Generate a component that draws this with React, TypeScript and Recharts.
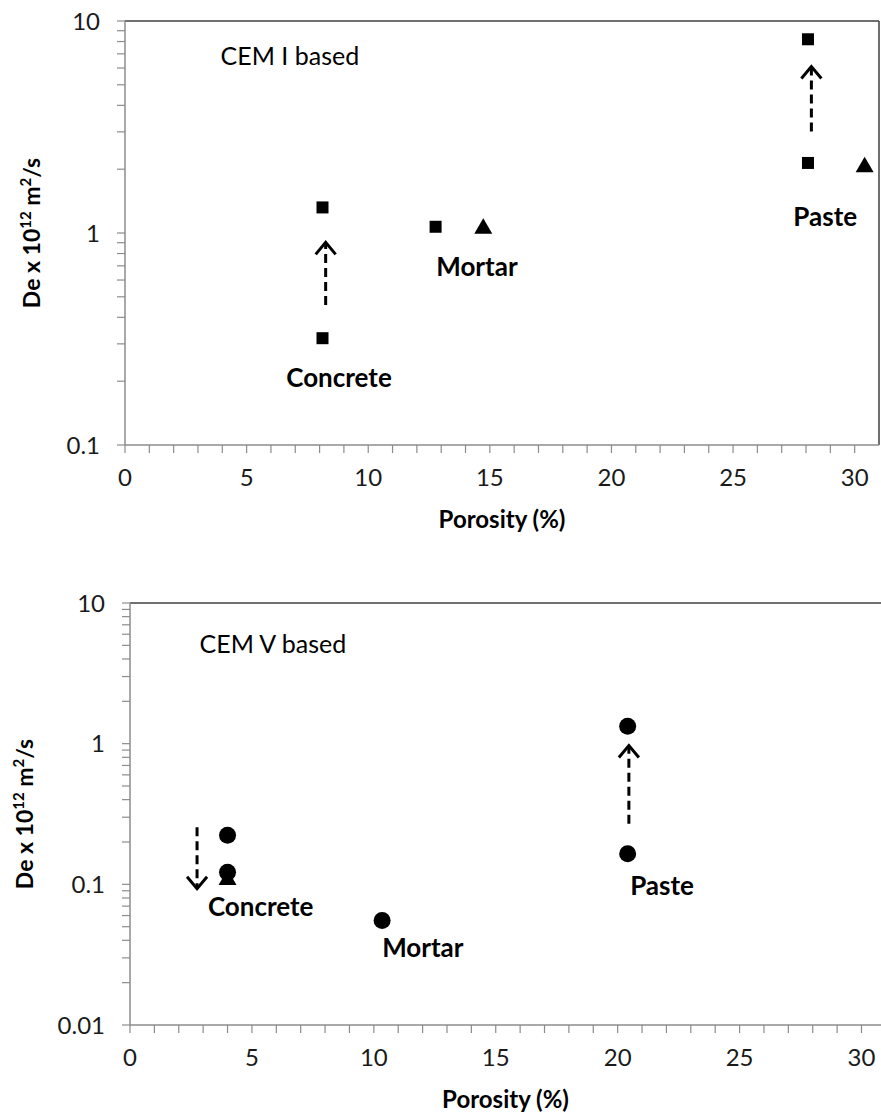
import React from 'react';
import { ScatterChart, Scatter, XAxis, YAxis, ReferenceLine, ReferenceDot } from 'recharts';

const FONT = 'Lato, "Open Sans", sans-serif';

// ---------- CEM I based (top panel) ----------
const cem1Squares = [
  { porosity: 8.12, de: 0.319 },
  { porosity: 8.12, de: 1.32 },
  { porosity: 12.77, de: 1.07 },
  { porosity: 28.08, de: 2.14 },
  { porosity: 28.08, de: 8.2 },
];
const cem1Triangles = [
  { porosity: 14.73, de: 1.07 },
  { porosity: 30.41, de: 2.09 },
];
const cem1Arrows = [
  { porosity: 8.25, from: 0.458, to: 0.903 },
  { porosity: 28.22, from: 3.01, to: 6.1 },
];
const cem1Labels = [
  { text: 'Concrete', porosity: 8.8, de: 0.209 },
  { text: 'Mortar', porosity: 14.47, de: 0.7 },
  { text: 'Paste', porosity: 28.79, de: 1.198 },
];
const cem1Title = { text: 'CEM I based', porosity: 6.78, de: 6.89 };

// ---------- CEM V based (bottom panel) ----------
const cem5Circles = [
  { porosity: 4.0, de: 0.223 },
  { porosity: 4.0, de: 0.122 },
  { porosity: 10.34, de: 0.0554 },
  { porosity: 20.41, de: 0.165 },
  { porosity: 20.41, de: 1.33 },
];
const cem5Triangles = [{ porosity: 4.0, de: 0.111 }];
const cem5Arrows = [
  { porosity: 2.75, from: 0.255, to: 0.093 },
  { porosity: 20.46, from: 0.27, to: 0.97 },
];
const cem5Labels = [
  { text: 'Concrete', porosity: 5.36, de: 0.0697 },
  { text: 'Mortar', porosity: 12.01, de: 0.0357 },
  { text: 'Paste', porosity: 21.82, de: 0.0982 },
];
const cem5Title = { text: 'CEM V based', porosity: 5.86, de: 5.17 };

// ---------- axes ----------
const xTicks = [0, 1, 2, 3, 4, 5, 6, 7, 8, 9, 10, 11, 12, 13, 14, 15, 16, 17, 18, 19, 20, 21, 22, 23, 24, 25, 26, 27, 28, 29, 30];
const xTickLabels = [0, 5, 10, 15, 20, 25, 30];
const yTicksTop = [0.1, 0.2, 0.3, 0.4, 0.5, 0.6, 0.7, 0.8, 0.9, 1, 2, 3, 4, 5, 6, 7, 8, 9, 10];
const yTickLabelsTop = [0.1, 1, 10];
const yTicksBottom = [0.01, 0.02, 0.03, 0.04, 0.05, 0.06, 0.07, 0.08, 0.09, 0.1, 0.2, 0.3, 0.4, 0.5, 0.6, 0.7, 0.8, 0.9, 1, 2, 3, 4, 5, 6, 7, 8, 9, 10];
const yTickLabelsBottom = [0.01, 0.1, 1, 10];

const AXIS = '#8c8c8c';
const BORDER = '#404040';

const squareShape = (p: any) => <rect x={p.cx - 6} y={p.cy - 6} width={12} height={12} fill="#000" />;
const triangleShape = (p: any) => (
  <polygon points={`${p.cx},${p.cy - 8.5} ${p.cx - 9},${p.cy + 7} ${p.cx + 9},${p.cy + 7}`} fill="#000" />
);
const circleShape = (p: any) => <circle cx={p.cx} cy={p.cy} r={8.5} fill="#000" />;

const arrowShape = (p: any) => {
  const { x1, y1, x2, y2 } = p;
  const dir = y2 < y1 ? -1 : 1;
  const head = 12;
  const half = 10;
  return (
    <g>
      <line x1={x1} y1={y1} x2={x2} y2={y2 - dir * 2} stroke="#000" strokeWidth={3} strokeDasharray="9 5" />
      <polyline
        points={`${x2 - half},${y2 - dir * head} ${x2},${y2} ${x2 + half},${y2 - dir * head}`}
        fill="none"
        stroke="#000"
        strokeWidth={3}
      />
    </g>
  );
};

const textShape = (text: string, bold: boolean, size: number) => (p: any) => (
  <text
    x={p.cx}
    y={p.cy}
    textAnchor="middle"
    dominantBaseline="central"
    fontFamily={FONT}
    fontWeight={bold ? 'bold' : 'normal'}
    fontSize={size}
    fill="#000"
  >
    {text}
  </text>
);

const yTitle = (bx: number) => (props: any) => {
  const vb = props.viewBox || {};
  const cy = vb.y + vb.height / 2;
  return (
    <text
      x={bx}
      y={cy}
      transform={`rotate(-90, ${bx}, ${cy})`}
      textAnchor="middle"
      fontFamily={FONT}
      fontWeight="bold"
      fontSize={23}
      fill="#000"
    >
      De x 10<tspan dy={-9} fontSize={15}>12</tspan>
      <tspan dy={9}> m</tspan>
      <tspan dy={-9} fontSize={15}>2</tspan>
      <tspan dy={9}>/s</tspan>
    </text>
  );
};

const xTitle = (props: any) => {
  const vb = props.viewBox || {};
  return (
    <text
      x={vb.x + vb.width / 2}
      y={vb.y + 83}
      textAnchor="middle"
      fontFamily={FONT}
      fontWeight="bold"
      fontSize={24}
      fill="#000"
    >
      Porosity (%)
    </text>
  );
};

const tickStyle = { fontFamily: FONT, fontSize: 24, fill: '#1a1a1a' };

function Panel(props: {
  top: number;
  height: number;
  margin: any;
  yWidth: number;
  xMax: number;
  yDomain: number[];
  yTicks: number[];
  yLabels: number[];
  yTitleX: number;
  markers: { data: any[]; shape: any }[];
  arrows: { porosity: number; from: number; to: number }[];
  labels: { text: string; porosity: number; de: number }[];
  title: { text: string; porosity: number; de: number };
  rightBorder: boolean;
}) {
  return (
    <div style={{ position: 'absolute', left: 0, top: props.top }}>
      <ScatterChart width={881} height={props.height} margin={props.margin}>
        <XAxis
          dataKey="porosity"
          type="number"
          domain={[0, props.xMax]}
          ticks={xTicks}
          interval={0}
          allowDataOverflow
          tickFormatter={(v: number) => (xTickLabels.includes(v) ? String(v) : '')}
          axisLine={{ stroke: AXIS, strokeWidth: 1.5 }}
          tickLine={{ stroke: AXIS, strokeWidth: 1.2 }}
          tickSize={8}
          tickMargin={16}
          tick={tickStyle}
          height={80}
          label={{ content: xTitle }}
        />
        <YAxis
          dataKey="de"
          type="number"
          scale="log"
          domain={props.yDomain}
          ticks={props.yTicks}
          interval={0}
          allowDataOverflow
          tickFormatter={(v: number) => (props.yLabels.includes(v) ? String(v) : '')}
          axisLine={{ stroke: AXIS, strokeWidth: 1.5 }}
          tickLine={{ stroke: AXIS, strokeWidth: 1.2 }}
          tickSize={8}
          tickMargin={17}
          tick={tickStyle}
          width={props.yWidth}
          label={{ content: yTitle(props.yTitleX) }}
        />
        <ReferenceLine y={props.yDomain[1]} stroke={BORDER} strokeWidth={1.5} />
        {props.rightBorder && <ReferenceLine x={props.xMax} stroke={BORDER} strokeWidth={1.5} />}
        {props.arrows.map((a, i) => (
          <ReferenceLine
            key={'a' + i}
            segment={[
              { x: a.porosity, y: a.from },
              { x: a.porosity, y: a.to },
            ]}
            shape={arrowShape}
          />
        ))}
        {props.markers.map((m, i) => (
          <Scatter key={'m' + i} data={m.data} shape={m.shape} isAnimationActive={false} />
        ))}
        {props.labels.map((l, i) => (
          <ReferenceDot key={'l' + i} x={l.porosity} y={l.de} r={0} shape={textShape(l.text, true, 26)} />
        ))}
        <ReferenceDot x={props.title.porosity} y={props.title.de} r={0} shape={textShape(props.title.text, false, 25)} />
      </ScatterChart>
    </div>
  );
}

export default function App() {
  return (
    <div style={{ position: 'absolute', left: 0, top: 0, width: 881, height: 1115, background: '#fff' }}>
      <Panel
        top={0}
        height={540}
        margin={{ top: 21, right: 2, bottom: 15, left: 0 }}
        yWidth={125}
        xMax={31}
        yDomain={[0.1, 10]}
        yTicks={yTicksTop}
        yLabels={yTickLabelsTop}
        yTitleX={40}
        markers={[
          { data: cem1Squares, shape: squareShape },
          { data: cem1Triangles, shape: triangleShape },
        ]}
        arrows={cem1Arrows}
        labels={cem1Labels}
        title={cem1Title}
        rightBorder={true}
      />
      <Panel
        top={580}
        height={535}
        margin={{ top: 23, right: 0, bottom: 10, left: 0 }}
        yWidth={130}
        xMax={30.8}
        yDomain={[0.01, 10]}
        yTicks={yTicksBottom}
        yLabels={yTickLabelsBottom}
        yTitleX={33}
        markers={[
          { data: cem5Triangles, shape: triangleShape },
          { data: cem5Circles, shape: circleShape },
        ]}
        arrows={cem5Arrows}
        labels={cem5Labels}
        title={cem5Title}
        rightBorder={false}
      />
    </div>
  );
}
